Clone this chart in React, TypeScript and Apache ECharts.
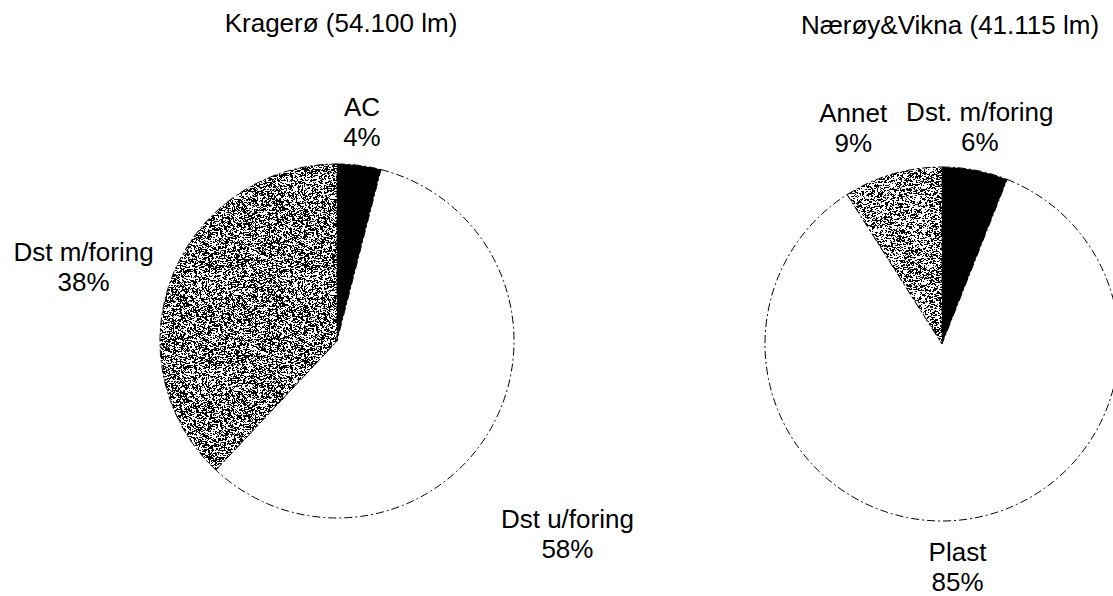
import React, { useEffect, useRef } from "react";
import * as echarts from "echarts";

const titles = ["Kragerø (54.100 lm)", "Nærøy&Vikna (41.115 lm)"];
const leftNames = ["AC", "Dst u/foring", "Dst m/foring"];
const leftValues = [4, 58, 38];
const rightNames = ["Dst. m/foring", "Plast", "Annet"];
const rightValues = [6, 85, 9];
// fill kind per slice: 0 = black, 1 = white, 2 = stipple
const leftFills = [0, 1, 2];
const rightFills = [0, 1, 2];
// label nudges [dx, dy] per slice
const leftNudge: number[][] = [[-6, -14], [44, 93], [-56, 2]];
const rightNudge: number[][] = [[-6, -14], [-9, 17], [-26, -17]];

function makeStipple(density: number, seed: number) {
  const size = 96;
  const c = document.createElement("canvas");
  c.width = size;
  c.height = size;
  const ctx = c.getContext("2d")!;
  ctx.fillStyle = "#ffffff";
  ctx.fillRect(0, 0, size, size);
  ctx.fillStyle = "#000000";
  let s = seed >>> 0;
  const next = () => {
    s = (Math.imul(s, 1664525) + 1013904223) >>> 0;
    return s / 4294967296;
  };
  for (let y = 0; y < size; y++) {
    for (let x = 0; x < size; x++) {
      const r = next();
      if (r < density) ctx.fillRect(x, y, r < density * 0.35 ? 2 : 1, 1);
    }
  }
  return c;
}

export default function App() {
  const ref = useRef<HTMLDivElement>(null);
  useEffect(() => {
    if (!ref.current) return;
    const chart = echarts.init(ref.current, null, { renderer: "svg" });
    const stipL = makeStipple(0.42, 12345);
    const stipR = makeStipple(0.34, 67890);
    const fillFor = (k: number, stip: HTMLCanvasElement): any =>
      k === 0 ? "#000000" : k === 1 ? "#ffffff" : { image: stip, repeat: "repeat" };
    const font = "'Liberation Sans', Arial, sans-serif";
    const labelStyle = {
      show: true,
      position: "outside",
      formatter: "{t|{b}}\n{t|{c}%}",
      color: "#000",
      fontFamily: font,
      fontSize: 26,
      lineHeight: 30,
      rich: { t: { align: "center", fontSize: 26, lineHeight: 30, fontFamily: font, color: "#000" } },
    };
    const mk = (names: string[], values: number[], fills: number[], stip: HTMLCanvasElement, center: number[], nudge: number[][]) => ({
      type: "pie",
      center,
      radius: 177,
      startAngle: 90,
      clockwise: true,
      avoidLabelOverlap: false,
      silent: true,
      label: labelStyle,
      labelLine: { show: false, length: 30, length2: 0 },
      labelLayout: (p: any) => ({ dx: nudge[p.dataIndex][0], dy: nudge[p.dataIndex][1], align: "center" }),
      itemStyle: { borderColor: "#000", borderWidth: 1, borderType: [8, 3, 2, 3] },
      data: names.map((n, i) => ({ name: n, value: values[i], itemStyle: { color: fillFor(fills[i], stip) } })),
    });
    const titleStyle = { fontFamily: font, fontSize: 26, fontWeight: "normal", color: "#000" };
    chart.setOption({
      animation: false,
      backgroundColor: "#ffffff",
      title: [
        { text: titles[0], left: 336, top: 5, textAlign: "center", textStyle: titleStyle },
        { text: titles[1], left: 945, top: 7, textAlign: "center", textStyle: titleStyle },
      ],
      series: [
        mk(leftNames, leftValues, leftFills, stipL, [337, 341], leftNudge),
        mk(rightNames, rightValues, rightFills, stipR, [942, 344], rightNudge),
      ],
    });
    return () => chart.dispose();
  }, []);
  return <div ref={ref} style={{ position: "fixed", left: 0, top: 0, width: 1113, height: 596 }} />;
}
